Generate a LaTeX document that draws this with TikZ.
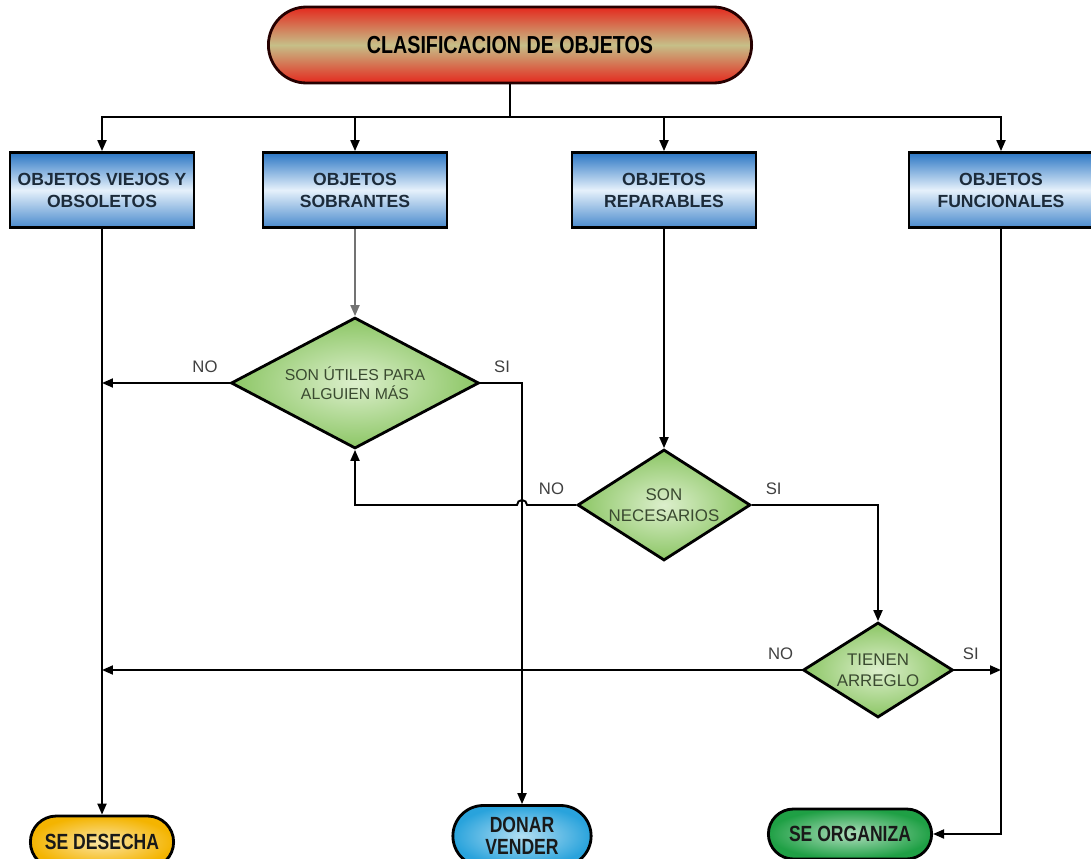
\documentclass[tikz,border=0pt]{standalone}
\usepackage{fontspec}
\setmainfont{Liberation Sans}
\newfontfamily\narrowfont[FakeStretch=0.8]{Liberation Sans}
\usetikzlibrary{shapes.misc, shapes.geometric, arrows.meta, positioning, calc}

\definecolor{boxblue}{HTML}{2A76C4}
\definecolor{boxlight}{HTML}{E6F1FB}
\definecolor{titlered}{HTML}{E4291E}
\definecolor{titlemid}{HTML}{C6BF88}
\definecolor{decgreen}{HTML}{8CC665}
\definecolor{declight}{HTML}{DCEFCC}
\definecolor{endgold}{HTML}{F4B400}
\definecolor{endcyan}{HTML}{29A3DC}
\definecolor{endgreen}{HTML}{1FA045}
\definecolor{inkblue}{HTML}{1C2B3A}
\definecolor{inkgreen}{HTML}{3A4A30}

\begin{document}
\begin{tikzpicture}[x=0.02cm, y=-0.02cm, line width=1.1pt,
    >={Triangle[length=2.2mm, width=1.8mm]},
    titulo/.style={rounded rectangle, draw=black!85!red, line width=1.6pt,
      minimum width=9.9cm, minimum height=1.52cm,
      top color=titlered, bottom color=titlered, middle color=titlemid,
      font={\narrowfont\fontsize{14}{16}\selectfont\bfseries}},
    cajon/.style={rectangle, draw=black, line width=1.6pt, align=center,
      minimum width=3.68cm, minimum height=1.5cm,
      top color=boxblue, bottom color=boxblue!85!white, middle color=boxlight,
      text=inkblue, font={\fontsize{10}{12.5}\selectfont\bfseries}},
    decision/.style={diamond, draw=black, line width=1.6pt, align=center,
      inner sep=0pt, inner color=declight, outer color=decgreen, text=inkgreen},
    terminal/.style={rounded rectangle, draw=black, line width=1.6pt, align=center,
      text=black!90, font={\narrowfont\fontsize{12.5}{12.5}\selectfont\bfseries}},
    etiq/.style={text=black!75, font={\fontsize{9.5}{11}\selectfont}}
  ]
  \useasboundingbox (0,0) rectangle (1091,858);
  \clip (0,0) rectangle (1091,858);

  % Main title
  \node[titulo] (title) at (510,45) {CLASIFICACION DE OBJETOS};

  % Object types
  \node[cajon] (b1) at (102,190) {OBJETOS VIEJOS Y\\OBSOLETOS};
  \node[cajon] (b2) at (355,190) {OBJETOS\\SOBRANTES};
  \node[cajon] (b3) at (664,190) {OBJETOS\\REPARABLES};
  \node[cajon] (b4) at (1001,190) {OBJETOS\\FUNCIONALES};

  % Decisions
  \node[decision, minimum width=4.96cm, minimum height=2.62cm, aspect=1.89,
    font={\fontsize{9}{11}\selectfont}] (d1) at (355,383)
    {SON ÚTILES PARA\\ALGUIEN MÁS};
  \node[decision, minimum width=3.46cm, minimum height=2.22cm, aspect=1.56,
    font={\fontsize{9.6}{12}\selectfont}] (d2) at (664,505)
    {SON\\NECESARIOS};
  \node[decision, minimum width=3.0cm, minimum height=1.9cm, aspect=1.58,
    font={\fontsize{9.6}{12}\selectfont}] (d3) at (878,670)
    {TIENEN\\ARREGLO};

  % Results
  \node[terminal, minimum width=3.1cm, minimum height=1.04cm,
    inner color=endgold!35!white, outer color=endgold] (t1) at (102,842) {SE DESECHA};
  \node[terminal, minimum width=3.0cm, minimum height=1.22cm,
    inner color=endcyan!35!white, outer color=endcyan] (t2) at (522,836) {DONAR\\VENDER};
  \node[terminal, minimum width=3.5cm, minimum height=1.0cm,
    inner color=endgreen!35!white, outer color=endgreen] (t3) at (850,834) {SE ORGANIZA};

  % Yes / no labels
  \node[etiq, above left=2pt and 3pt of d1.west] (no1) {NO};
  \node[etiq, above right=2pt and 4pt of d1.east] (si1) {SI};
  \node[etiq, above left=2pt and 3pt of d2.west] (no2) {NO};
  \node[etiq, above right=2pt and 4pt of d2.east] (si2) {SI};
  \node[etiq, above left=2pt and 1pt of d3.west] (no3) {NO};
  \node[etiq, above right=2pt and 1pt of d3.east] (si3) {SI};

  % Branches from the title
  \coordinate (split) at (510,117);
  \draw (title.south) -- (split);
  \foreach \b in {b1,b2,b3,b4}
    \draw[->] (split) -| (\b.north);

  % Flow
  \draw[->] (b1.south) -- (t1.north);
  \draw[->, black!55] (b2.south) -- (d1.north);
  \draw[->] (d1.west) -- (d1.west -| b1.south);
  \draw[->] (d1.east) -| (t2.north);
  \draw[->] (b3.south) -- (d2.north);
  \draw[->] (d2.west) -- ($(d2.west -| t2.north)+(5,0)$)
    arc[start angle=0, end angle=-180, radius=5]
    -- (d2.west -| d1.south) -- (d1.south);
  \draw[->] (d2.east) -| (d3.north);
  \draw[->] (d3.west) -- (d3.west -| b1.south);
  \draw[->] (d3.east) -- (d3.east -| b4.south);
  \draw[->] (b4.south) |- (t3.east);
\end{tikzpicture}
\end{document}
